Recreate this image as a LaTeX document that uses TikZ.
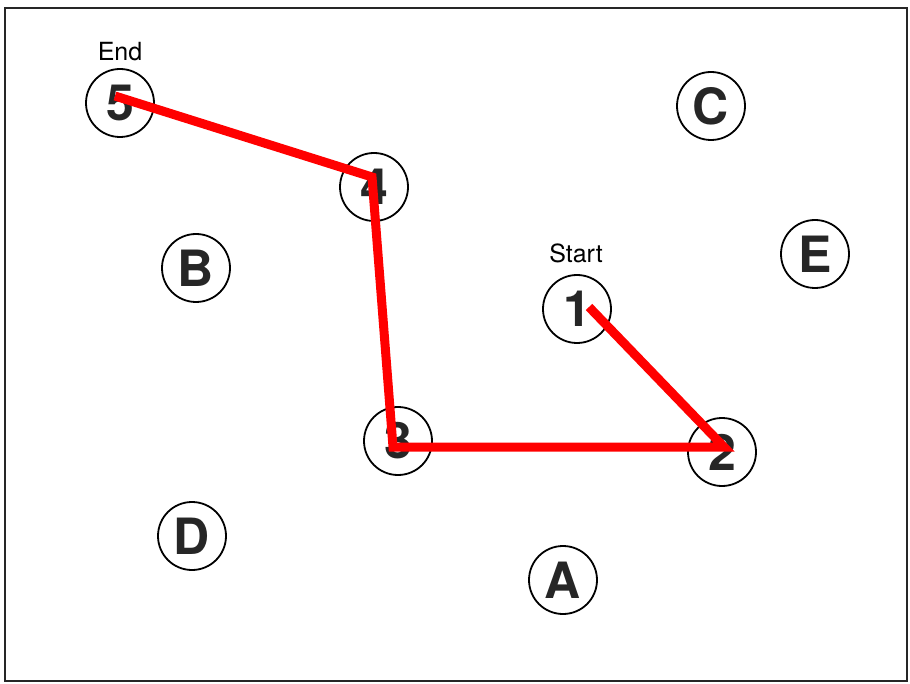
\documentclass[tikz,border=0pt]{standalone}
\usepackage{fontspec}
\setmainfont{TeX Gyre Heros}
\begin{document}
\begin{tikzpicture}[x=1pt,y=-1pt,
  stop/.style={circle,draw=black,line width=1.8pt,minimum size=68pt,inner sep=0pt,
    font=\fontsize{50}{50}\selectfont\bfseries,text=black!85},
  tag/.style={font=\fontsize{25}{25}\selectfont},
  route/.style={draw=red,line width=9pt,line join=miter,line cap=butt}]
\useasboundingbox (0,0) rectangle (910,684);
\draw[line width=2.5pt,black!85] (5,8) rectangle (907,681);
\node[stop] (n5) at (120,103) {5};
\node[stop] (n4) at (374,187) {4};
\node[stop] (nC) at (711,106) {C};
\node[stop] (nB) at (196,268) {B};
\node[stop] (nE) at (815,254) {E};
\node[stop] (n1) at (577,309) {1};
\node[stop] (n3) at (398,441) {3};
\node[stop] (n2) at (722,452) {2};
\node[stop] (nD) at (192,536) {D};
\node[stop] (nA) at (563,580) {A};
\node[tag] (tEnd) at (120,52) {End};
\node[tag] (tStart) at (576,253) {Start};
\coordinate (p1) at (589,307);
\coordinate (p2) at (724,447);
\coordinate (p3) at (393,447);
\coordinate (p4) at (372,177);
\coordinate (p5) at (115,96);
\draw[route] (p1) -- (p2) -- (p3) -- (p4) -- (p5);
\end{tikzpicture}
\end{document}
